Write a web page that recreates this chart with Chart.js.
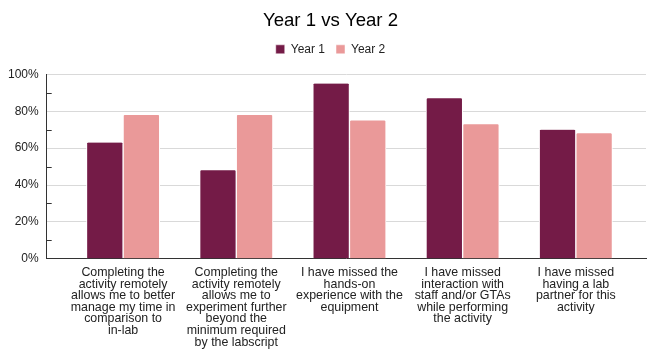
<!DOCTYPE html>
<html>
<head>
<meta charset="utf-8">
<script src="https://cdn.jsdelivr.net/npm/chart.js@4"></script>
<style>
  body { margin: 0; background: #fff; }
</style>
</head>
<body>
<canvas id="surveyChart" width="647" height="356"></canvas>
<script>
// survey statements, one array of lines per category
var statements = [
    ['Completing the', 'activity remotely', 'allows me to better', 'manage my time in', 'comparison to', 'in-lab'],
    ['Completing the', 'activity remotely', 'allows me to', 'experiment further', 'beyond the', 'minimum required', 'by the labscript'],
    ['I have missed the', 'hands-on', 'experience with the', 'equipment'],
    ['I have missed', 'interaction with', 'staff and/or GTAs', 'while performing', 'the activity'],
    ['I have missed', 'having a lab', 'partner for this', 'activity']
];
var year1 = [63, 48, 95, 87, 70];
var year2 = [78, 78, 75, 73, 68];
var percentTicks = [0, 20, 40, 60, 80, 100];

var fontFamily = '"Liberation Sans", Arial, sans-serif';

// short tick marks on the inside of the y axis between the labelled steps
var minorTicks = {
    id: 'minorTicks',
    afterDraw: function (chart) {
        var y = chart.scales.y;
        var left = chart.chartArea.left;
        var ctx = chart.ctx;
        ctx.save();
        ctx.strokeStyle = '#333333';
        ctx.lineWidth = 1;
        for (var i = 0; i < percentTicks.length - 1; i++) {
            var mid = (percentTicks[i] + percentTicks[i + 1]) / 2;
            var py = Math.round(y.getPixelForValue(mid)) + 0.5;
            ctx.beginPath();
            ctx.moveTo(left, py);
            ctx.lineTo(left + 5, py);
            ctx.stroke();
        }
        ctx.restore();
    }
};

// extra room under the legend, and title + legend nudged right a little
var headerLayout = {
    id: 'headerLayout',
    beforeInit: function (chart) {
        var fit = chart.legend.fit;
        chart.legend.fit = function () {
            fit.bind(chart.legend)();
            this.height += 9;
        };
    },
    afterLayout: function (chart) {
        chart.titleBlock.left += 15;
        chart.legend.left += 15;
    }
};

function points(values) {
    return values.map(function (v, i) { return { x: i, y: v }; });
}

var ctx = document.getElementById('surveyChart').getContext('2d');
var myChart = new Chart(ctx, {
    type: 'bar',
    data: {
        datasets: [{
            label: 'Year 1',
            data: points(year1),
            backgroundColor: '#741b47',
            borderColor: '#ffffff',
            borderWidth: { left: 1, right: 1, top: 0, bottom: 0 },
            borderRadius: { topLeft: 2, topRight: 2 },
            borderSkipped: false,
            barThickness: 36.6
        }, {
            label: 'Year 2',
            data: points(year2),
            backgroundColor: '#ea9999',
            borderColor: '#ffffff',
            borderWidth: { left: 1, right: 1, top: 0, bottom: 0 },
            borderRadius: { topLeft: 2, topRight: 2 },
            borderSkipped: false,
            barThickness: 36.6
        }]
    },
    options: {
        responsive: false,
        animation: false,
        layout: {
            padding: { left: 0, right: 1, top: 0, bottom: 0 }
        },
        plugins: {
            title: {
                display: true,
                text: 'Year 1 vs Year 2',
                color: '#000000',
                font: { family: fontFamily, size: 18.6, weight: 'normal' },
                padding: { top: 10, bottom: 0 }
            },
            legend: {
                labels: {
                    boxWidth: 9,
                    boxHeight: 9,
                    padding: 11,
                    color: '#222222',
                    font: { family: fontFamily, size: 12 }
                }
            },
            tooltip: { enabled: false }
        },
        scales: {
            x: {
                type: 'linear',
                bounds: 'data',
                offset: false,
                min: -0.675,
                max: 4.62,
                grid: { display: false, drawTicks: false },
                border: { display: true, color: '#333333', width: 1 },
                afterBuildTicks: function (scale) {
                    scale.ticks = statements.map(function (s, i) { return { value: i }; });
                },
                ticks: {
                    autoSkip: false,
                    maxRotation: 0,
                    padding: 8,
                    color: '#222222',
                    font: { family: fontFamily, size: 12.4, lineHeight: '11.6px' },
                    callback: function (value) {
                        return statements[value];
                    }
                }
            },
            y: {
                min: 0,
                max: 100,
                grid: { color: '#d9d9d9', drawTicks: false },
                border: { display: true, color: '#333333', width: 1 },
                ticks: {
                    stepSize: 20,
                    padding: 8,
                    color: '#222222',
                    font: { family: fontFamily, size: 12 },
                    callback: function (value) { return value + '%'; }
                }
            }
        }
    },
    plugins: [minorTicks, headerLayout]
});
</script>
</body>
</html>
